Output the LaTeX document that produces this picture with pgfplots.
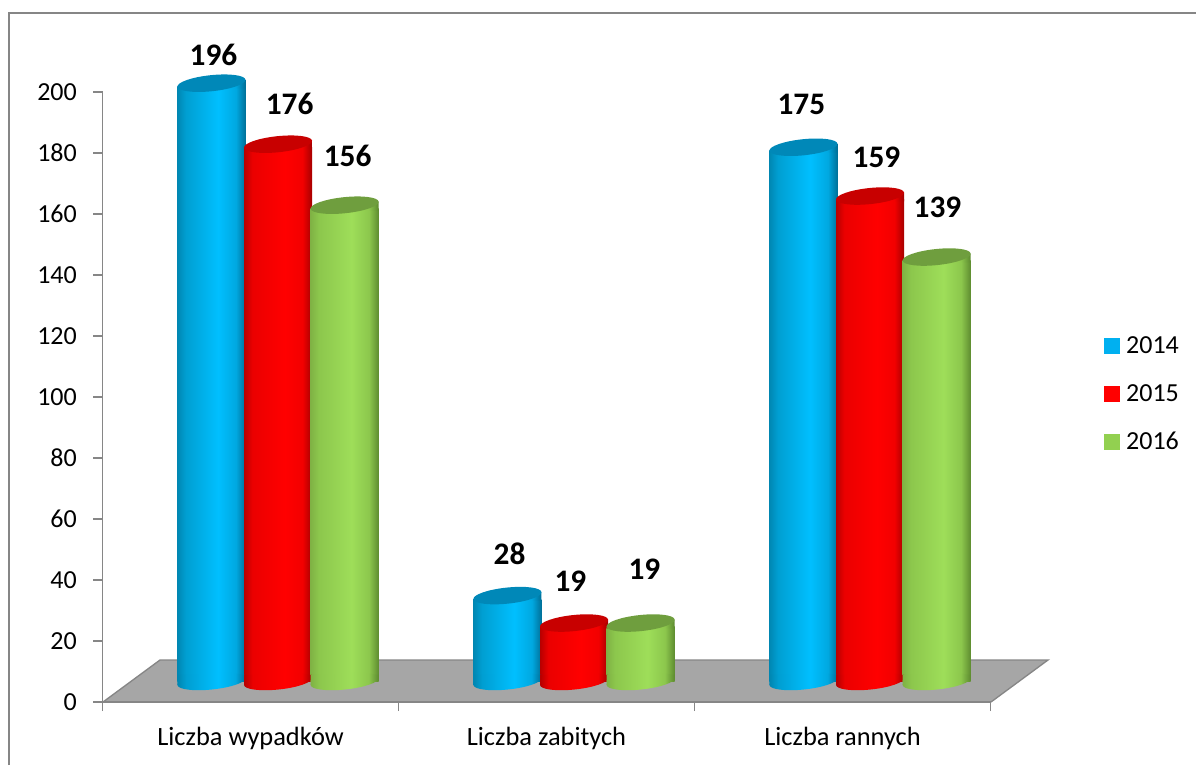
\documentclass[border=0pt]{standalone}
\usepackage{pgfplots}
\usepackage{fontspec}
\setmainfont{Carlito}
\pgfplotsset{compat=1.18}
\definecolor{framegray}{HTML}{868686}
\definecolor{floorgray}{HTML}{A6A6A6}
\definecolor{capblue}{HTML}{0088B8}
\definecolor{capred}{HTML}{C80000}
\definecolor{capgreen}{HTML}{6F9E3E}
\definecolor{legblue}{HTML}{00B0F0}
\definecolor{legred}{HTML}{FF0000}
\definecolor{leggreen}{HTML}{92D050}
\pgfdeclarehorizontalshading{bodyblue}{100bp}{rgb(0bp)=(0,0.53,0.70); rgb(25bp)=(0,0.53,0.70); rgb(31bp)=(0,0.62,0.82); rgb(55bp)=(0,0.75,1); rgb(68bp)=(0,0.66,0.88); rgb(75bp)=(0,0.44,0.60); rgb(100bp)=(0,0.44,0.60)}
\pgfdeclarehorizontalshading{bodyred}{100bp}{rgb(0bp)=(0.72,0,0); rgb(25bp)=(0.72,0,0); rgb(31bp)=(0.92,0,0); rgb(55bp)=(1,0,0); rgb(68bp)=(0.95,0,0); rgb(75bp)=(0.65,0,0); rgb(100bp)=(0.65,0,0)}
\pgfdeclarehorizontalshading{bodygreen}{100bp}{rgb(0bp)=(0.50,0.70,0.27); rgb(25bp)=(0.50,0.70,0.27); rgb(31bp)=(0.55,0.78,0.30); rgb(55bp)=(0.62,0.87,0.35); rgb(68bp)=(0.55,0.78,0.30); rgb(75bp)=(0.37,0.55,0.19); rgb(100bp)=(0.37,0.55,0.19)}
\newcommand\cylmarks[1]{%
  \pgfdeclareplotmark{top#1}{%
    \pgfscope
    \pgfpathmoveto{\pgfqpoint{-25.5pt}{-2.65pt}}%
    \pgfpathlineto{\pgfqpoint{25.5pt}{2.65pt}}%
    \pgfpathlineto{\pgfqpoint{25.5pt}{-4pt}}%
    \pgfpathlineto{\pgfqpoint{-25.5pt}{-4pt}}%
    \pgfpathclose
    \pgfusepath{clip}%
    \pgftext{\pgfuseshading{body#1}}%
    \endpgfscope
    \pgfpathellipse{\pgfpointorigin}{\pgfqpoint{25.5pt}{2.65pt}}{\pgfqpoint{-0.63pt}{6pt}}%
    \pgfsetfillcolor{cap#1}%
    \pgfusepath{fill}%
  }%
  \pgfdeclareplotmark{bot#1}{%
    \pgfscope
    \pgfpathellipse{\pgfpointorigin}{\pgfqpoint{25.5pt}{2.65pt}}{\pgfqpoint{-0.63pt}{6pt}}%
    \pgfusepath{clip}%
    \pgftext{\pgfuseshading{body#1}}%
    \endpgfscope
    \pgfscope
    \pgfpathmoveto{\pgfqpoint{-25.5pt}{-2.65pt}}%
    \pgfpathlineto{\pgfqpoint{25.5pt}{2.65pt}}%
    \pgfpathlineto{\pgfqpoint{25.5pt}{5pt}}%
    \pgfpathlineto{\pgfqpoint{-25.5pt}{5pt}}%
    \pgfpathclose
    \pgfusepath{clip}%
    \pgftext{\pgfuseshading{body#1}}%
    \endpgfscope
  }%
}
\cylmarks{blue}\cylmarks{red}\cylmarks{green}
% one cylinder: x position, value, colour
\newcommand\cyl[3]{%
  \addplot[only marks,mark=bot#3,forget plot,yshift=15.4pt] coordinates {(#1,0)};
  \addplot[ybar,bar width=51pt,bar shift=0pt,draw=none,shade,shading=body#3,shading angle=0,mark=none,forget plot,yshift=15.75pt,y filter/.expression={y-1.15}] coordinates {(#1,#2)};
  \addplot[only marks,mark=top#3,forget plot,yshift=15.75pt] coordinates {(#1,#2)};
}
\begin{document}
\begin{tikzpicture}
\useasboundingbox (0,0) rectangle (897pt,573.75pt);
\begin{scope}[x=0.75pt,y=-0.75pt,yshift=573.75pt]
  \draw[framegray,line width=1.2pt] (9,765) -- (9,13) -- (1196,13);
  \fill[floorgray] (103,702) -- (160,660) -- (1048,660) -- (991,702) -- cycle;
  \draw[framegray,line width=1pt] (103,702) -- (160,660) -- (1048,660) -- (991,702);
\end{scope}
\begin{axis}[
  at={(76.875pt,47.25pt)},anchor=south west,
  scale only axis,width=666pt,height=457.5pt,
  xmin=0,xmax=3,ymin=0,ymax=200,
  clip=false,
  axis x line=bottom,axis y line=left,
  axis line style={-,framegray,line width=1.1pt},
  tick style={framegray,line width=1.1pt},
  tick align=outside,
  major tick length=6.75pt,
  ytick={0,20,...,200},
  xtick={0,1,2,3},xticklabels={},
  extra x ticks={0.5,1.5,2.5},
  extra x tick labels={Liczba wypadków,Liczba zabitych,Liczba rannych},
  extra x tick style={major tick length=0pt,tick label style={yshift=-22.5pt,text height=1.4ex,text depth=.3ex,font=\fontsize{19.8}{22}\selectfont}},
  tick label style={font=\fontsize{19.5}{22}\selectfont},
  /pgf/number format/assume math mode=true,
  y tick label style={xshift=-9pt},
  legend style={at={(1.1274,0.505)},anchor=west,draw=none,fill=none,row sep=17.5pt,font=\fontsize{19.5}{22}\selectfont,inner sep=0pt},
  legend cell align=left,
  legend image code/.code={\path[draw=none,fill=none] (0pt,0pt) -- (14.5pt,0pt);\fill[#1] (0pt,-5.6pt) rectangle (11.25pt,5.6pt);},
]
\cyl{0.368}{196}{blue}\cyl{0.593}{176}{red}\cyl{0.818}{156}{green}
\cyl{1.368}{28}{blue}\cyl{1.593}{19}{red}\cyl{1.818}{19}{green}
\cyl{2.368}{175}{blue}\cyl{2.593}{159}{red}\cyl{2.818}{139}{green}
\addplot[only marks,mark=none,forget plot,point meta=explicit symbolic,nodes near coords,
  every node near coord/.append style={anchor=center,font=\fontsize{23.5}{25}\bfseries\selectfont,black,inner sep=0pt}]
  coordinates {
  (0.375,212.3)[196] (0.632,196.2)[176] (0.828,179.2)[156]
  (1.375,48.5)[28] (1.581,39.7)[19] (1.831,43.6)[19]
  (2.361,195.9)[175] (2.615,178.6)[159] (2.821,162.3)[139]
  };
\addlegendimage{legblue}\addlegendentry{2014}
\addlegendimage{legred}\addlegendentry{2015}
\addlegendimage{leggreen}\addlegendentry{2016}
\end{axis}
\end{tikzpicture}
\end{document}
